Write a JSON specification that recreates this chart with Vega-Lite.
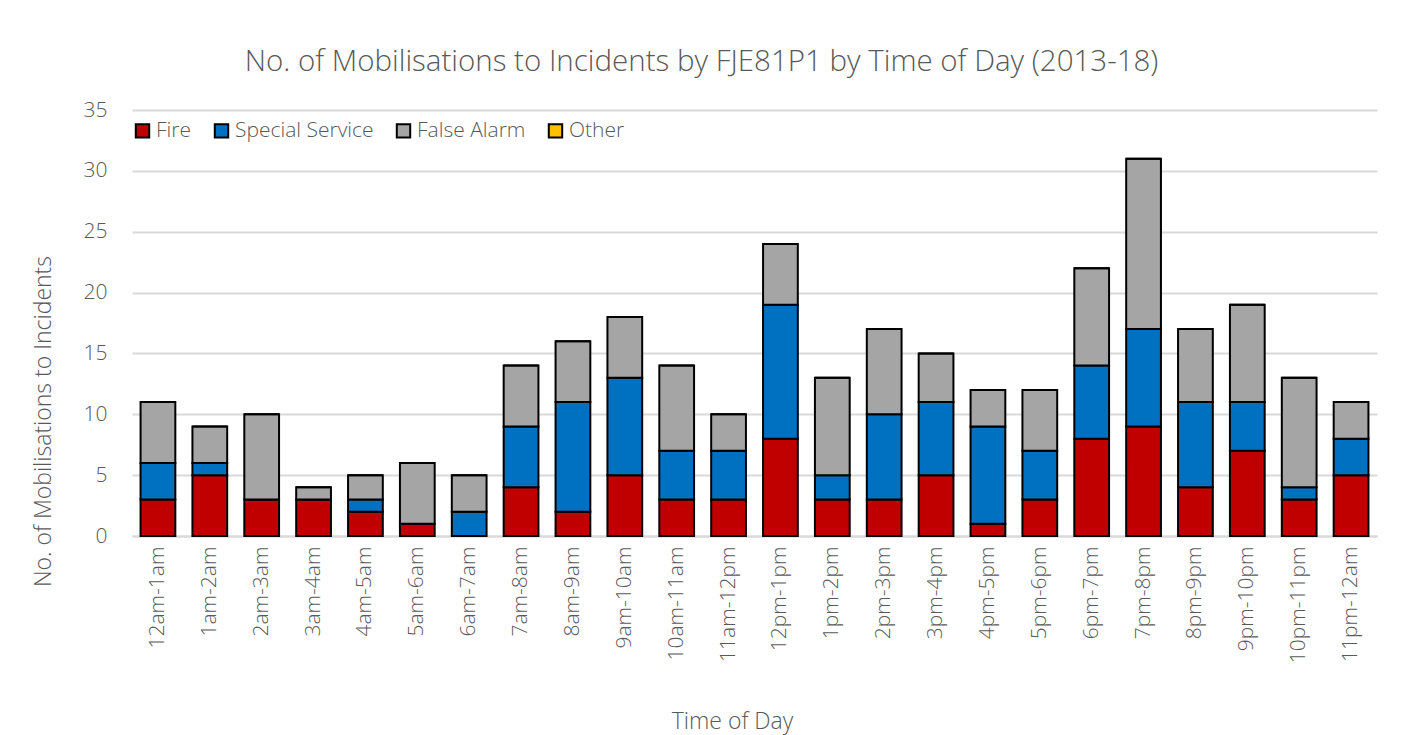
{
  "$schema": "https://vega.github.io/schema/vega-lite/v6.json",
  "autosize": {"type": "none"},
  "width": 1245,
  "height": 426,
  "padding": {"left": 132, "top": 110, "right": 34, "bottom": 199},
  "background": "white",
  "config": {
    "font": "Open Sans",
    "view": {"stroke": null},
    "axis": {"labelFont": "Open Sans", "titleFont": "Open Sans", "labelFontWeight": 300, "titleFontWeight": 300, "labelColor": "#595959", "titleColor": "#595959"},
    "legend": {"labelFont": "Open Sans", "labelFontWeight": 300, "labelColor": "#595959"}
  },
  "title": {
    "text": "No. of Mobilisations to Incidents by FJE81P1 by Time of Day (2013-18)",
    "font": "Open Sans",
    "fontWeight": 300,
    "fontSize": 29.5,
    "color": "#595959",
    "anchor": "middle",
    "dx": -53,
    "offset": 22
  },
  "data": {
    "values": [
      {"hour": "12am-1am", "type": "Fire", "rank": 1, "count": 3}, {"hour": "12am-1am", "type": "Special Service", "rank": 2, "count": 3}, {"hour": "12am-1am", "type": "False Alarm", "rank": 3, "count": 5}, {"hour": "12am-1am", "type": "Other", "rank": 4, "count": 0},
      {"hour": "1am-2am", "type": "Fire", "rank": 1, "count": 5}, {"hour": "1am-2am", "type": "Special Service", "rank": 2, "count": 1}, {"hour": "1am-2am", "type": "False Alarm", "rank": 3, "count": 3}, {"hour": "1am-2am", "type": "Other", "rank": 4, "count": 0},
      {"hour": "2am-3am", "type": "Fire", "rank": 1, "count": 3}, {"hour": "2am-3am", "type": "Special Service", "rank": 2, "count": 0}, {"hour": "2am-3am", "type": "False Alarm", "rank": 3, "count": 7}, {"hour": "2am-3am", "type": "Other", "rank": 4, "count": 0},
      {"hour": "3am-4am", "type": "Fire", "rank": 1, "count": 3}, {"hour": "3am-4am", "type": "Special Service", "rank": 2, "count": 0}, {"hour": "3am-4am", "type": "False Alarm", "rank": 3, "count": 1}, {"hour": "3am-4am", "type": "Other", "rank": 4, "count": 0},
      {"hour": "4am-5am", "type": "Fire", "rank": 1, "count": 2}, {"hour": "4am-5am", "type": "Special Service", "rank": 2, "count": 1}, {"hour": "4am-5am", "type": "False Alarm", "rank": 3, "count": 2}, {"hour": "4am-5am", "type": "Other", "rank": 4, "count": 0},
      {"hour": "5am-6am", "type": "Fire", "rank": 1, "count": 1}, {"hour": "5am-6am", "type": "Special Service", "rank": 2, "count": 0}, {"hour": "5am-6am", "type": "False Alarm", "rank": 3, "count": 5}, {"hour": "5am-6am", "type": "Other", "rank": 4, "count": 0},
      {"hour": "6am-7am", "type": "Fire", "rank": 1, "count": 0}, {"hour": "6am-7am", "type": "Special Service", "rank": 2, "count": 2}, {"hour": "6am-7am", "type": "False Alarm", "rank": 3, "count": 3}, {"hour": "6am-7am", "type": "Other", "rank": 4, "count": 0},
      {"hour": "7am-8am", "type": "Fire", "rank": 1, "count": 4}, {"hour": "7am-8am", "type": "Special Service", "rank": 2, "count": 5}, {"hour": "7am-8am", "type": "False Alarm", "rank": 3, "count": 5}, {"hour": "7am-8am", "type": "Other", "rank": 4, "count": 0},
      {"hour": "8am-9am", "type": "Fire", "rank": 1, "count": 2}, {"hour": "8am-9am", "type": "Special Service", "rank": 2, "count": 9}, {"hour": "8am-9am", "type": "False Alarm", "rank": 3, "count": 5}, {"hour": "8am-9am", "type": "Other", "rank": 4, "count": 0},
      {"hour": "9am-10am", "type": "Fire", "rank": 1, "count": 5}, {"hour": "9am-10am", "type": "Special Service", "rank": 2, "count": 8}, {"hour": "9am-10am", "type": "False Alarm", "rank": 3, "count": 5}, {"hour": "9am-10am", "type": "Other", "rank": 4, "count": 0},
      {"hour": "10am-11am", "type": "Fire", "rank": 1, "count": 3}, {"hour": "10am-11am", "type": "Special Service", "rank": 2, "count": 4}, {"hour": "10am-11am", "type": "False Alarm", "rank": 3, "count": 7}, {"hour": "10am-11am", "type": "Other", "rank": 4, "count": 0},
      {"hour": "11am-12pm", "type": "Fire", "rank": 1, "count": 3}, {"hour": "11am-12pm", "type": "Special Service", "rank": 2, "count": 4}, {"hour": "11am-12pm", "type": "False Alarm", "rank": 3, "count": 3}, {"hour": "11am-12pm", "type": "Other", "rank": 4, "count": 0},
      {"hour": "12pm-1pm", "type": "Fire", "rank": 1, "count": 8}, {"hour": "12pm-1pm", "type": "Special Service", "rank": 2, "count": 11}, {"hour": "12pm-1pm", "type": "False Alarm", "rank": 3, "count": 5}, {"hour": "12pm-1pm", "type": "Other", "rank": 4, "count": 0},
      {"hour": "1pm-2pm", "type": "Fire", "rank": 1, "count": 3}, {"hour": "1pm-2pm", "type": "Special Service", "rank": 2, "count": 2}, {"hour": "1pm-2pm", "type": "False Alarm", "rank": 3, "count": 8}, {"hour": "1pm-2pm", "type": "Other", "rank": 4, "count": 0},
      {"hour": "2pm-3pm", "type": "Fire", "rank": 1, "count": 3}, {"hour": "2pm-3pm", "type": "Special Service", "rank": 2, "count": 7}, {"hour": "2pm-3pm", "type": "False Alarm", "rank": 3, "count": 7}, {"hour": "2pm-3pm", "type": "Other", "rank": 4, "count": 0},
      {"hour": "3pm-4pm", "type": "Fire", "rank": 1, "count": 5}, {"hour": "3pm-4pm", "type": "Special Service", "rank": 2, "count": 6}, {"hour": "3pm-4pm", "type": "False Alarm", "rank": 3, "count": 4}, {"hour": "3pm-4pm", "type": "Other", "rank": 4, "count": 0},
      {"hour": "4pm-5pm", "type": "Fire", "rank": 1, "count": 1}, {"hour": "4pm-5pm", "type": "Special Service", "rank": 2, "count": 8}, {"hour": "4pm-5pm", "type": "False Alarm", "rank": 3, "count": 3}, {"hour": "4pm-5pm", "type": "Other", "rank": 4, "count": 0},
      {"hour": "5pm-6pm", "type": "Fire", "rank": 1, "count": 3}, {"hour": "5pm-6pm", "type": "Special Service", "rank": 2, "count": 4}, {"hour": "5pm-6pm", "type": "False Alarm", "rank": 3, "count": 5}, {"hour": "5pm-6pm", "type": "Other", "rank": 4, "count": 0},
      {"hour": "6pm-7pm", "type": "Fire", "rank": 1, "count": 8}, {"hour": "6pm-7pm", "type": "Special Service", "rank": 2, "count": 6}, {"hour": "6pm-7pm", "type": "False Alarm", "rank": 3, "count": 8}, {"hour": "6pm-7pm", "type": "Other", "rank": 4, "count": 0},
      {"hour": "7pm-8pm", "type": "Fire", "rank": 1, "count": 9}, {"hour": "7pm-8pm", "type": "Special Service", "rank": 2, "count": 8}, {"hour": "7pm-8pm", "type": "False Alarm", "rank": 3, "count": 14}, {"hour": "7pm-8pm", "type": "Other", "rank": 4, "count": 0},
      {"hour": "8pm-9pm", "type": "Fire", "rank": 1, "count": 4}, {"hour": "8pm-9pm", "type": "Special Service", "rank": 2, "count": 7}, {"hour": "8pm-9pm", "type": "False Alarm", "rank": 3, "count": 6}, {"hour": "8pm-9pm", "type": "Other", "rank": 4, "count": 0},
      {"hour": "9pm-10pm", "type": "Fire", "rank": 1, "count": 7}, {"hour": "9pm-10pm", "type": "Special Service", "rank": 2, "count": 4}, {"hour": "9pm-10pm", "type": "False Alarm", "rank": 3, "count": 8}, {"hour": "9pm-10pm", "type": "Other", "rank": 4, "count": 0},
      {"hour": "10pm-11pm", "type": "Fire", "rank": 1, "count": 3}, {"hour": "10pm-11pm", "type": "Special Service", "rank": 2, "count": 1}, {"hour": "10pm-11pm", "type": "False Alarm", "rank": 3, "count": 9}, {"hour": "10pm-11pm", "type": "Other", "rank": 4, "count": 0},
      {"hour": "11pm-12am", "type": "Fire", "rank": 1, "count": 5}, {"hour": "11pm-12am", "type": "Special Service", "rank": 2, "count": 3}, {"hour": "11pm-12am", "type": "False Alarm", "rank": 3, "count": 3}, {"hour": "11pm-12am", "type": "Other", "rank": 4, "count": 0}
    ]
  },
  "mark": {"type": "bar", "stroke": "black", "strokeWidth": 2, "strokeJoin": "miter"},
  "encoding": {
    "x": {
      "field": "hour",
      "type": "nominal",
      "sort": null,
      "scale": {"paddingInner": 0.33, "paddingOuter": 0.165},
      "axis": {
        "title": "Time of Day",
        "titleFontSize": 23,
        "titleX": 600,
        "titleY": 174,
        "titleBaseline": "top",
        "titleAnchor": "middle",
        "labelAngle": -90,
        "labelFontSize": 21,
        "labelPadding": 10,
        "ticks": false,
        "domain": true,
        "domainColor": "#D9D9D9",
        "domainWidth": 2
      }
    },
    "y": {
      "field": "count",
      "type": "quantitative",
      "stack": "zero",
      "scale": {"domain": [0, 35], "nice": false},
      "axis": {
        "title": "No. of Mobilisations to Incidents",
        "titleFontSize": 23,
        "titleX": -77,
        "titleY": 311,
        "titleAngle": 270,
        "titleBaseline": "bottom",
        "values": [0, 5, 10, 15, 20, 25, 30, 35],
        "labelFontSize": 21,
        "labelPadding": 25,
        "ticks": false,
        "domain": false,
        "gridColor": "#D9D9D9",
        "gridWidth": 2
      }
    },
    "color": {
      "field": "type",
      "type": "nominal",
      "sort": ["Fire", "Special Service", "False Alarm", "Other"],
      "scale": {"domain": ["Fire", "Special Service", "False Alarm", "Other"], "range": ["#C00000", "#0070C0", "#A5A5A5", "#FFC000"]},
      "legend": {
        "title": null,
        "orient": "none",
        "legendX": 0,
        "legendY": 10,
        "direction": "horizontal",
        "columns": 4,
        "symbolType": "square",
        "symbolSize": 180,
        "symbolStrokeColor": "black",
        "symbolStrokeWidth": 2,
        "symbolOpacity": 1,
        "labelFontSize": 21,
        "labelOffset": 3,
        "columnPadding": 18,
        "padding": 0
      }
    },
    "order": {"field": "rank", "type": "quantitative", "sort": "ascending"}
  }
}
